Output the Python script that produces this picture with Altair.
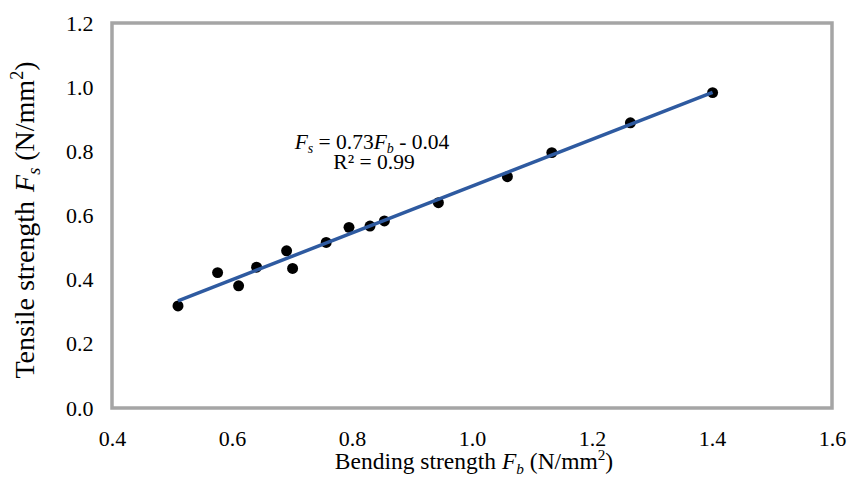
import altair as alt
import pandas as pd

# ---- data ----
bending = [0.510, 0.576, 0.611, 0.641, 0.691, 0.701, 0.757, 0.795, 0.830, 0.854,
           0.944, 1.059, 1.133, 1.264, 1.401]
tensile = [0.318, 0.422, 0.381, 0.439, 0.490, 0.435, 0.516, 0.563, 0.567, 0.583,
           0.640, 0.721, 0.796, 0.889, 0.983]
x_ticks = [0.4, 0.6, 0.8, 1.0, 1.2, 1.4, 1.6]
y_ticks = [0.0, 0.2, 0.4, 0.6, 0.8, 1.0, 1.2]

eq_pieces = [("F", "i"), ("s", "sub"), (" = 0.73", "n"), ("F", "i"), ("b", "sub"), (" - 0.04", "n")]
r2_pieces = [("R² = 0.99", "n")]
x_title_pieces = [("Bending strength ", "n"), ("F", "i"), ("b", "sub"), (" (N/mm", "n"), ("2", "sup"), (")", "n")]
y_title_pieces = [("Tensile strength ", "n"), ("F", "i"), ("s", "sub"), (" (N/mm", "n"), ("2", "sup"), (")", "n")]

FONT = "Liberation Serif"
W, H = 720, 385

# approximate Times advance widths (per 1000 em)
W_REG = {" ": 250, "(": 333, ")": 333, "-": 333, ".": 250, "/": 278, "=": 564,
         "B": 667, "N": 722, "R": 667, "T": 611, "d": 500, "e": 444, "g": 500,
         "h": 500, "i": 278, "l": 278, "m": 778, "n": 500, "r": 333, "s": 389,
         "t": 278, "²": 300}
W_IT = {"F": 611, "s": 389, "b": 500}


def adv(text, size, italic):
    table = W_IT if italic else W_REG
    return sum(table.get(c, 500) for c in text) / 1000 * size


def rich(pieces, center, base, size, rotate=False):
    """Lay out a run of styled text pieces one after the other."""
    specs = []
    total = 0.0
    for t, kind in pieces:
        s = size * 0.65 if kind in ("sub", "sup") else size
        italic = kind in ("i", "sub")
        shift = size * 0.2 if kind == "sub" else (-size * 0.38 if kind == "sup" else 0)
        lead = len(t) - len(t.lstrip(" "))
        core = t.strip(" ")
        specs.append((core, s, italic, total + adv(" " * lead, s, italic), shift))
        total += adv(t, s, italic)
    layers = []
    for t, s, italic, off, shift in specs:
        if rotate:
            px, py, ang = base + shift, center + total / 2 - off, 270
        else:
            px, py, ang = center - total / 2 + off, base + shift, 0
        layers.append(
            alt.Chart(pd.DataFrame({"k": [0]})).mark_text(
                text=t, font=FONT, fontSize=s, fontStyle="italic" if italic else "normal",
                align="left", baseline="alphabetic", angle=ang, color="black"
            ).encode(x=alt.value(px), y=alt.value(py))
        )
    return layers


df = pd.DataFrame({"Fb": bending, "Fs": tensile})
base = alt.Chart(df)
xs = alt.Scale(domain=[0.4, 1.6], nice=False, zero=False)
ys = alt.Scale(domain=[0.0, 1.2], nice=False)

points = base.mark_circle(size=120, color="black", opacity=1).encode(
    x=alt.X("Fb:Q", scale=xs, axis=alt.Axis(
        values=x_ticks, format=".1f", title=None, grid=False, domain=False, ticks=False,
        tickSize=0, labelFont=FONT, labelFontSize=22, labelColor="black",
        labelPadding=20, labelFlush=False, labelOverlap=False)),
    y=alt.Y("Fs:Q", scale=ys, axis=alt.Axis(
        values=y_ticks, format=".1f", title=None, grid=False, domain=False, ticks=False,
        tickSize=0, labelFont=FONT, labelFontSize=22, labelColor="black",
        labelPadding=19, labelFlush=False, labelOverlap=False)),
)

trend = base.transform_regression("Fb", "Fs").mark_line(
    color="#2E5AA0", strokeWidth=3.5
).encode(x=alt.X("Fb:Q", scale=xs), y=alt.Y("Fs:Q", scale=ys))

layers = [points, trend]
layers += rich(eq_pieces, 260, 126, 21.5)
layers += rich(r2_pieces, 262, 146, 21.5)
layers += rich(x_title_pieces, 362, 446, 23.5)
layers += rich(y_title_pieces, 197, -78, 28, rotate=True)

chart = alt.layer(*layers).properties(
    width=W, height=H,
    padding={"left": 104, "top": 15, "right": 16, "bottom": 68},
    autosize=alt.AutoSizeParams(type="none"),
).configure(font=FONT).configure_view(stroke="#A5A5A5", strokeWidth=3.5
).configure_axis(labelFont=FONT)

chart.save("out.html", embed_options={"renderer": "svg", "actions": False})
